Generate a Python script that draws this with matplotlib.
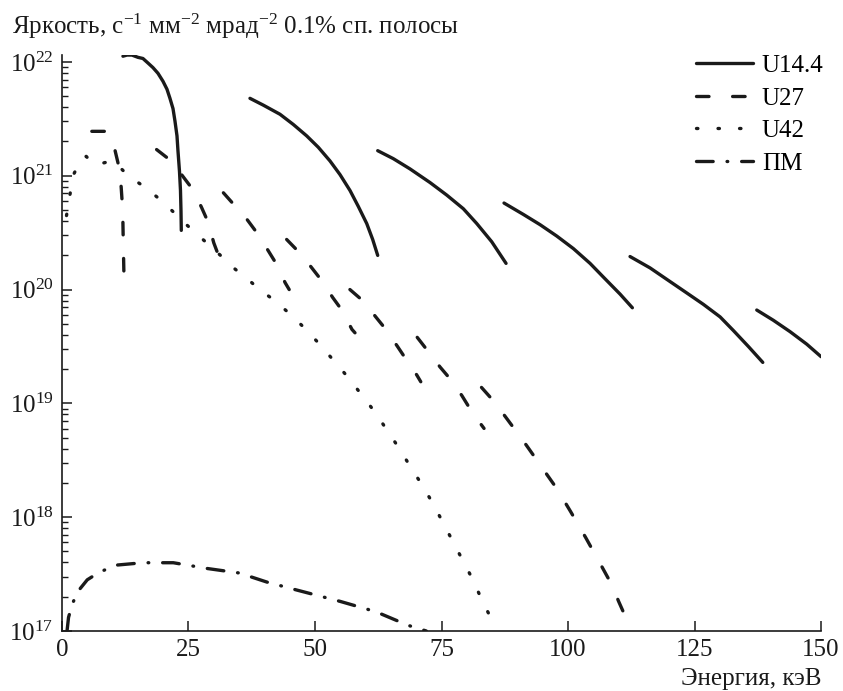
import numpy as np
import matplotlib
matplotlib.use("Agg")
import matplotlib.pyplot as plt
from matplotlib.ticker import LogLocator, FixedLocator, NullFormatter, LogFormatterSciNotation

plt.rcParams["font.family"] = "serif"
plt.rcParams["font.serif"] = ["Liberation Serif", "DejaVu Serif"]
plt.rcParams["mathtext.fontset"] = "custom"
plt.rcParams["mathtext.rm"] = "Liberation Serif"
plt.rcParams["mathtext.it"] = "Liberation Serif:italic"
plt.rcParams["lines.scale_dashes"] = False

# энергия (кэВ) и lg(яркости) по гармоникам
u14_x = [
    [12.05, 12.85, 13.83, 15.02, 16.0, 17.0, 17.98, 18.97, 19.96, 20.75, 21.34, 21.94,
     22.33, 22.73, 22.92, 23.22, 23.42, 23.52, 23.58],
    [37.15, 39.79, 43.08, 45.72, 48.36, 50.65, 52.96, 54.94, 56.92, 58.56, 60.22, 61.40, 62.39],
    [62.39, 65.47, 68.77, 72.73, 76.03, 79.31, 81.96, 84.92, 87.75],
    [87.35, 91.17, 94.47, 97.77, 101.05, 104.35, 106.97, 110.28, 112.71],
    [112.25, 116.21, 119.5, 123.46, 126.74, 130.04, 132.67, 135.63, 138.48],
    [137.29, 140.57, 143.87, 147.17, 150.0],
]
u14_lg = [
    [22.05, 22.06, 22.06, 22.04, 22.03, 21.99, 21.95, 21.90, 21.83, 21.76, 21.68, 21.59,
     21.48, 21.35, 21.22, 21.04, 20.87, 20.69, 20.52],
    [21.68, 21.62, 21.54, 21.45, 21.35, 21.25, 21.13, 21.01, 20.87, 20.73, 20.58, 20.44, 20.30],
    [21.22, 21.15, 21.06, 20.94, 20.83, 20.71, 20.58, 20.42, 20.23],
    [20.76, 20.66, 20.57, 20.47, 20.36, 20.23, 20.11, 19.96, 19.84],
    [20.29, 20.19, 20.09, 19.97, 19.87, 19.76, 19.64, 19.50, 19.36],
    [19.82, 19.73, 19.63, 19.52, 19.41],
]

u27_x = [
    [5.9, 8.8, 9.8, 10.5, 11.3, 11.7, 12.0, 12.1, 12.25],
    [18.7, 21.3, 23.8, 26.0, 27.6, 28.9, 30.0, 31.1],
    [31.9, 33.9, 36.5, 38.5, 40.5, 42.3, 44.1, 44.9],
    [44.4, 46.8, 49.2, 51.3, 53.5, 55.3, 57.3, 57.9],
    [56.9, 59.5, 62.0, 64.0, 66.3, 68.1, 70.1, 70.9],
    [70.2, 72.3, 74.7, 76.8, 79.0, 80.8, 82.9, 83.4],
    [82.9, 85.1, 87.5, 89.5, 91.8, 93.7, 95.9, 97.8, 100.5, 103.5, 106.5, 108.6, 110.0, 111.3],
]
u27_lg = [
    [21.39, 21.39, 21.32, 21.22, 21.07, 20.9, 20.7, 20.45, 20.12],
    [21.23, 21.14, 21.0, 20.87, 20.72, 20.59, 20.41, 20.28],
    [20.85, 20.75, 20.62, 20.50, 20.36, 20.23, 20.06, 20.0],
    [20.44, 20.33, 20.2, 20.08, 19.93, 19.82, 19.65, 19.62],
    [20.0, 19.9, 19.76, 19.65, 19.5, 19.38, 19.25, 19.19],
    [19.58, 19.46, 19.32, 19.21, 19.07, 18.94, 18.81, 18.78],
    [19.14, 19.03, 18.89, 18.77, 18.63, 18.51, 18.37, 18.25, 18.05, 17.82, 17.58, 17.41, 17.26, 17.13],
]

u42_x = [0.9, 1.6, 2.4, 3.9, 4.8, 6.2, 8.0, 9.8, 11.5, 13.4, 16.7, 19.4, 22.3, 24.6, 27.1,
         30.6, 34.2, 37.0, 38.8, 42.1, 45.2, 48.2, 51.1, 54.0, 56.7, 59.3, 61.9, 64.3,
         66.7, 68.9, 71.2, 73.3, 75.2, 77.2, 79.2, 81.2, 82.9, 84.8, 85.6]
u42_lg = [20.65, 20.84, 21.02, 21.155, 21.17, 21.10, 21.11, 21.13, 21.07, 20.99, 20.89, 20.79,
          20.67, 20.57, 20.47, 20.33, 20.18, 20.08, 20.01, 19.90, 19.78, 19.65, 19.51, 19.36,
          19.22, 19.07, 18.92, 18.76, 18.60, 18.44, 18.28, 18.12, 17.96, 17.79, 17.62, 17.45,
          17.28, 17.11, 17.0]

pm_x = [1.0, 1.3, 2.0, 3.0, 5.0, 7.5, 11.0, 16.0, 22.0, 28.6, 35.0, 40.5, 46.4, 55.0, 62.0, 68.4, 72.0]
pm_lg = [17.0, 17.12, 17.23, 17.34, 17.45, 17.52, 17.58, 17.6, 17.6, 17.55, 17.51, 17.43, 17.36,
         17.26, 17.17, 17.05, 17.0]

x_ticks = [0, 25, 50, 75, 100, 125, 150]

fig = plt.figure(figsize=(8.43, 6.91), dpi=100)
ax = fig.add_axes([0.0735, 0.0868, 0.9005, 0.8335])

lw = 2.4
common = dict(color="#1a1a1a", lw=lw, solid_capstyle="round", dash_capstyle="round",
              solid_joinstyle="round")

for i, (xs, ls) in enumerate(zip(u14_x, u14_lg)):
    ax.plot(xs, 10 ** np.array(ls), ls="-", label="U14.4" if i == 0 else None, **common)
for i, (xs, ls) in enumerate(zip(u27_x, u27_lg)):
    ax.plot(xs, 10 ** np.array(ls), ls=(0, (9, 17)), label="U27" if i == 0 else None, **common)
ax.plot(u42_x, 10 ** np.array(u42_lg), ls=(0, (1.0, 14.5)), label="U42", **common)
ax.plot(pm_x, 10 ** np.array(pm_lg), ls=(0, (12, 10, 0.5, 10)), label="ПМ", **common)

ax.set_yscale("log")
ax.set_xlim(0, 150)
ax.set_ylim(1e17, 10 ** 22.06)
ax.spines["top"].set_visible(False)
ax.spines["right"].set_visible(False)
for s in ("left", "bottom"):
    ax.spines[s].set_linewidth(1.2)
    ax.spines[s].set_color("#1a1a1a")

ax.xaxis.set_major_locator(FixedLocator(x_ticks))
ax.yaxis.set_major_locator(LogLocator(base=10, numticks=10))
ax.yaxis.set_minor_locator(LogLocator(base=10, subs=np.arange(2, 10), numticks=10))
ax.yaxis.set_minor_formatter(NullFormatter())
ax.yaxis.set_major_formatter(LogFormatterSciNotation())
ax.tick_params(axis="both", which="major", direction="in", length=7, width=1.1,
               labelsize=18, colors="#1a1a1a")
ax.tick_params(axis="y", which="minor", direction="in", length=4.5, width=1.0, colors="#1a1a1a")
ax.tick_params(axis="x", pad=6)
ax.tick_params(axis="y", pad=6)

fig.text(0.014, 0.951, "Яркость, с$^{-1}$ мм$^{-2}$ мрад$^{-2}$ 0.1% сп. полосы",
         fontsize=18, ha="left", va="baseline", color="#1a1a1a")
fig.text(0.975, 0.008, "Энергия, кэВ", fontsize=18, ha="right", va="baseline", color="#1a1a1a")

ax.legend(loc="upper right", bbox_to_anchor=(0.977, 0.921), bbox_transform=fig.transFigure,
          frameon=False, fontsize=18, handlelength=2.3, handletextpad=0.35,
          labelspacing=0.4, borderpad=0, borderaxespad=0)

fig.savefig("out.png", dpi=100)
